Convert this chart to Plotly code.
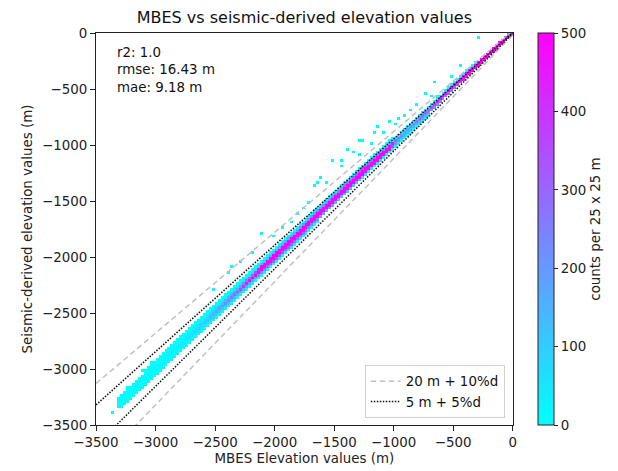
import numpy as np
import plotly.graph_objects as go

# ---------------- data ----------------
# density band along the 1:1 line (25 m x 25 m bins), profile at depth knots
knot_depth = [0, -150, -300, -500, -700, -900, -1000, -1150, -1300, -1500, -1750, -2000, -2150, -2300, -2450, -2600, -2750, -3000, -3200, -3350]
knot_peak = [8000, 3000, 1500, 900, 450, 220, 350, 3000, 4000, 2500, 3000, 2000, 600, 330, 200, 90, 40, 12, 3, 0.5]
knot_halfwidth_up = [30, 35, 40, 45, 50, 55, 60, 65, 70, 70, 72, 75, 77, 78, 80, 81, 82, 80, 70, 50]
knot_halfwidth_down = [25, 28, 32, 36, 40, 45, 50, 52, 55, 58, 60, 62, 64, 65, 67, 68, 70, 70, 60, 45]
knot_offset = [5, 10, 10, 15, 15, 15, 15, 15, 12, 10, 8, 5, 3, 0, 0, 0, 0, 0, 0, 0]

# isolated outlier bins (MBES, seismic) in metres
outlier_mbes = [-283, -437, -658, -520, -825, -908, -964, -1131, -1158, -1048, -1256, -1381, -1437,
                -1520, -1603, -1658, -742, -645, -575, -381, -1283, -1339, -1450, -1645, -1714,
                -1825, -1867, -1936, -2103, -2020, -2353, -2381, -2520, -2298, -3367, -3297, -3187,
                -700, -860, -990, -1090, -1200, -1300, -1560, -1760, -2200, -3250, -3120, -3050]
outlier_seis = [-33, -286, -449, -390, -643, -732, -753, -836, -881, -792, -955, -1045, -1149,
                -1149, -1283, -1372, -538, -569, -509, -330, -970, -1074, -1179, -1342, -1506,
                -1625, -1685, -1729, -1789, -1819, -2087, -2131, -2295, -2042, -3381, -3307, -3217,
                -560, -700, -820, -900, -1000, -1080, -1330, -1560, -1960, -3170, -3010, -2930]

# tolerance envelopes
tol_labels = ["20 m + 10%d", "5 m + 5%d"]
tol_const = [20, 5]
tol_frac = [0.10, 0.05]

stats_text = ["r2: 1.0", "rmse: 16.43 m", "mae: 9.18 m"]

tick_vals = [-3500, -3000, -2500, -2000, -1500, -1000, -500, 0]
tick_text = ["\u22123500", "\u22123000", "\u22122500", "\u22122000", "\u22121500", "\u22121000", "\u2212500", "0"]
cbar_vals = [0, 100, 200, 300, 400, 500]
cbar_text = ["0", "100", "200", "300", "400", "500"]

# ---------------- build the 2D histogram grid ----------------
bin_size = 25
edges = np.arange(-3500, 0 + bin_size, bin_size)
centers = (edges[:-1] + edges[1:]) / 2.0
kd = np.array(knot_depth[::-1], float)
peak_c = np.interp(centers, kd, np.array(knot_peak[::-1], float))
hwu_c = np.interp(centers, kd, np.array(knot_halfwidth_up[::-1], float))
hwd_c = np.interp(centers, kd, np.array(knot_halfwidth_down[::-1], float))
off_c = np.interp(centers, kd, np.array(knot_offset[::-1], float))

Z = np.full((len(centers), len(centers)), np.nan)
for j, xc in enumerate(centers):
    if peak_c[j] < 1:
        continue
    P = max(peak_c[j], 1.01)
    k = np.sqrt(2 * np.log(P))
    d = centers - (xc + off_c[j])
    s = np.where(d >= 0, hwu_c[j] / k, hwd_c[j] / k)
    cnt = P * np.exp(-0.5 * (d / s) ** 2)
    Z[:, j] = np.where(cnt >= 1, cnt, np.nan)

for mx, my in zip(outlier_mbes, outlier_seis):
    j = int(np.clip((mx + 3500) // bin_size, 0, len(centers) - 1))
    i = int(np.clip((my + 3500) // bin_size, 0, len(centers) - 1))
    if np.isnan(Z[i, j]):
        Z[i, j] = 2

cool = [[0, "rgb(0,255,255)"], [1, "rgb(255,0,255)"]]

# layout geometry (pixels)
ML, MR = 96, 8
paper_w = 618 - ML - MR
dom_right = 420 / paper_w
cb_x = (541 - ML) / paper_w
FONT = "DejaVu Sans"

fig = go.Figure()
fig.add_trace(go.Heatmap(
    x=centers, y=centers, z=Z, zmin=0, zmax=500, colorscale=cool,
    showscale=True, hoverongaps=False,
    colorbar=dict(
        x=cb_x, xanchor="left", xref="paper", xpad=0, y=0.5, yanchor="middle", ypad=0,
        len=1.0, lenmode="fraction",
        thickness=16, outlinewidth=1, outlinecolor="#222",
        tickvals=cbar_vals, ticktext=cbar_text, ticks="outside", ticklen=4, tickcolor="#222",
        tickfont=dict(family=FONT, size=13.4, color="#222"),
        title=dict(text="counts per 25 x 25 m", side="right",
                   font=dict(family=FONT, size=13.4, color="#222")),
    ),
))

xline = np.array([-3500.0, 0.0])
styles = [dict(color="#c0c0c0", width=1.5, dash="5.5px,3.5px"),
          dict(color="#111111", width=1.5, dash="1.5px,1.5px")]
for lab, c, f, st in zip(tol_labels, tol_const, tol_frac, styles):
    up = xline + c + f * np.abs(xline)
    lo = xline - c - f * np.abs(xline)
    fig.add_trace(go.Scatter(x=xline, y=up, mode="lines", line=st, name=lab,
                             legendgroup=lab, showlegend=True))
    fig.add_trace(go.Scatter(x=xline, y=lo, mode="lines", line=st, name=lab,
                             legendgroup=lab, showlegend=False))

fig.add_annotation(
    x=0.045, y=0.975, xref="x domain", yref="y domain", xanchor="left", yanchor="top",
    text="<br>".join(stats_text), showarrow=False, align="left",
    font=dict(family=FONT, size=13.4, color="#111"),
)

axis_common = dict(
    range=[-3500, 0], tickvals=tick_vals, ticktext=tick_text, ticks="outside", ticklen=5,
    tickcolor="#222", showline=True, linecolor="#222", linewidth=1, mirror=True,
    showgrid=False, zeroline=False, tickfont=dict(family=FONT, size=13.4, color="#222"),
)
fig.update_xaxes(**axis_common, domain=[0, dom_right],
                 title=dict(text="MBES Elevation values (m)", standoff=4,
                            font=dict(family=FONT, size=13.4, color="#222")))
fig.update_yaxes(**axis_common,
                 title=dict(text="Seismic-derived elevation values (m)", standoff=6,
                            font=dict(family=FONT, size=13.4, color="#222")))

fig.update_layout(
    width=618, height=471, autosize=False,
    margin=dict(l=ML, r=MR, t=33, b=46, pad=0),
    paper_bgcolor="white", plot_bgcolor="white",
    title=dict(text="MBES vs seismic-derived elevation values", xref="paper",
               x=(306 - ML) / paper_w, xanchor="center",
               y=0.963, yanchor="middle", font=dict(family=FONT, size=16, color="#111")),
    legend=dict(x=(508 - ML) / paper_w, y=0.018, xanchor="right", yanchor="bottom",
                bgcolor="rgba(255,255,255,0.8)", bordercolor="#d0d0d0", borderwidth=1,
                font=dict(family=FONT, size=13.4, color="#111"), tracegroupgap=0),
    showlegend=True,
)

fig.write_html("out.html")
